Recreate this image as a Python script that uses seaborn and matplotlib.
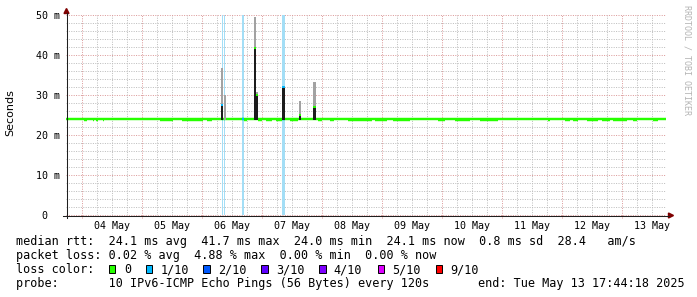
import numpy as np
import pandas as pd
import matplotlib
matplotlib.use("Agg")
import matplotlib.pyplot as plt
import matplotlib.dates as mdates
from matplotlib.ticker import MultipleLocator
from matplotlib.patches import Rectangle, Polygon
from matplotlib.lines import Line2D
import seaborn as sns

# ---------------- data ----------------
range_start = "2025-05-03 17:44:18"
range_end = "2025-05-13 17:44:18"

median_base = 24.1          # ms, typical median rtt
dip_value = 23.85           # ms, short dips of the median
dip_start = ["2025-05-04 00:48", "2025-05-04 04:24", "2025-05-04 05:36", "2025-05-04 08:24",
             "2025-05-05 07:12", "2025-05-05 16:00", "2025-05-06 02:00", "2025-05-06 16:48",
             "2025-05-06 22:24", "2025-05-07 01:36", "2025-05-07 05:36", "2025-05-07 11:12",
             "2025-05-07 22:24", "2025-05-08 03:12", "2025-05-08 10:24", "2025-05-08 21:12",
             "2025-05-09 04:24", "2025-05-09 22:24", "2025-05-10 05:12", "2025-05-10 15:12",
             "2025-05-11 18:24", "2025-05-12 01:12", "2025-05-12 04:24", "2025-05-12 10:00",
             "2025-05-12 16:00", "2025-05-12 20:24", "2025-05-13 04:24", "2025-05-13 12:24"]
dip_end = ["2025-05-04 02:00", "2025-05-04 04:48", "2025-05-04 06:24", "2025-05-04 08:48",
           "2025-05-05 12:24", "2025-05-06 00:24", "2025-05-06 04:00", "2025-05-06 18:00",
           "2025-05-07 00:00", "2025-05-07 04:00", "2025-05-07 08:00", "2025-05-07 14:24",
           "2025-05-08 00:00", "2025-05-08 04:48", "2025-05-08 20:00", "2025-05-09 02:00",
           "2025-05-09 11:12", "2025-05-10 01:12", "2025-05-10 11:12", "2025-05-10 22:24",
           "2025-05-11 19:12", "2025-05-12 03:12", "2025-05-12 06:24", "2025-05-12 14:24",
           "2025-05-12 19:12", "2025-05-13 02:00", "2025-05-13 06:00", "2025-05-13 14:24"]

# latency spikes: median, top of dense smoke, max ping, loss
event_time = ["2025-05-06 08:00", "2025-05-06 09:12", "2025-05-06 21:12", "2025-05-06 22:00",
              "2025-05-07 08:43", "2025-05-07 15:29", "2025-05-07 21:07"]
event_median = [27.5, 24.1, 41.7, 30.0, 32.0, 25.0, 27.0]
event_dark = [27.5, 24.1, 41.7, 30.0, 32.0, 25.0, 27.0]
event_max = [36.8, 30.0, 49.5, 30.8, 32.0, 28.5, 33.3]
event_loss = ["1/10", "0", "0", "0", "1/10", "0", "0"]

# periods with packet loss (background highlight)
lossbg_start = ["2025-05-06 08:00", "2025-05-06 09:05", "2025-05-06 16:00", "2025-05-07 08:17"]
lossbg_end = ["2025-05-06 08:30", "2025-05-06 09:30", "2025-05-06 16:48", "2025-05-07 09:12"]
lossbg_loss = ["1/10", "1/10", "1/10", "1/10"]

loss_labels = ["0", "1/10", "2/10", "3/10", "4/10", "5/10", "9/10"]
loss_colors = ["#26ff00", "#00b8ff", "#0059ff", "#5e00ff", "#7e00ff", "#dd00ff", "#ff0000"]
loss_bg_colors = {"1/10": "#a3def6"}

day_labels = ["04 May", "05 May", "06 May", "07 May", "08 May",
              "09 May", "10 May", "11 May", "12 May", "13 May"]
y_ticks = [0, 10, 20, 30, 40, 50]
y_tick_labels = ["0  ", "10 m", "20 m", "30 m", "40 m", "50 m"]

stat_median = "median rtt:  24.1 ms avg  41.7 ms max  24.0 ms min  24.1 ms now  0.8 ms sd  28.4   am/s"
stat_loss = "packet loss: 0.02 % avg  4.88 % max  0.00 % min  0.00 % now"
probe_text = "probe:       10 IPv6-ICMP Echo Pings (56 Bytes) every 120s"
end_text = "end: Tue May 13 17:44:18 2025"

# ---------------- figure ----------------
W, H = 697, 297
def fx(x): return x / W
def fy(y): return 1 - y / H

MONO = "DejaVu Sans Mono"
fig = plt.figure(figsize=(W / 100, H / 100), dpi=100, facecolor="white")
ax = fig.add_axes([fx(66), fy(215), 600 / W, 200 / H])
ax.set_facecolor("white")
for s in ax.spines.values():
    s.set_visible(False)

t0 = pd.Timestamp(range_start)
t1 = pd.Timestamp(range_end)
px = pd.Timedelta(minutes=24)  # one pixel

# grid
GRID = "#bebebe"
MGRID = "#dc9a9a"
dot = (0, (1.0, 1.4))
six_h = pd.date_range(t0.ceil("6h"), t1, freq="6h")
minor_x = [t for t in six_h if t.hour != 0]
major_x = [t for t in six_h if t.hour == 0]
ax.vlines(minor_x, 0, 50, colors=GRID, linestyles=dot, linewidth=0.72, zorder=0.5)
ax.vlines(major_x, -0.8, 50, colors=MGRID, linestyles=dot, linewidth=0.72, zorder=0.6, clip_on=False)
for v in np.arange(0, 50.1, 2):
    if v % 10 == 0:
        continue
    ax.axhline(v, color=GRID, linestyle=dot, linewidth=0.72, zorder=0.5)
for v in y_ticks:
    ax.axhline(v, color=MGRID, linestyle=dot, linewidth=0.72, zorder=0.6, clip_on=False)

# loss background
for s, e, l in zip(lossbg_start, lossbg_end, lossbg_loss):
    ax.axvspan(pd.Timestamp(s), pd.Timestamp(e), ymin=0, ymax=1,
               color=loss_bg_colors[l], linewidth=0, zorder=1)

palette = dict(zip(loss_labels, loss_colors))

# median baseline segments
rows = []
seg = 0
def add_seg(a, b, v, l):
    global seg
    rows.append((seg, pd.Timestamp(a), v, l))
    rows.append((seg, pd.Timestamp(b), v, l))
    seg += 1

add_seg(t0, t1, median_base, "0")
for a, b in zip(dip_start, dip_end):
    add_seg(a, b, dip_value, "0")
for a, b, l in zip(lossbg_start, lossbg_end, lossbg_loss):
    add_seg(a, b, median_base, l)
base_df = pd.DataFrame(rows, columns=["seg", "time", "rtt", "loss"])
sns.lineplot(data=base_df, x="time", y="rtt", hue="loss", units="seg", estimator=None,
             palette=palette, linewidth=1.75, legend=False, ax=ax, zorder=2,
             solid_capstyle="butt")

# smoke
et = pd.to_datetime(event_time)
xnum = mdates.date2num(et)
wdays = 2.2 * 24 / 60 / 24
dark = np.array(event_dark)
mx = np.array(event_max)
dark_h = np.where(dark > 24.2, dark - 23.7, 0)
ax.bar(xnum, dark_h, bottom=23.7, width=wdays, color="#1c1c1c", linewidth=0, zorder=3)
light_bottom = np.where(dark > 24.2, dark, 23.7)
ax.bar(xnum, mx - light_bottom, bottom=light_bottom, width=wdays, color="#a2a2a2",
       linewidth=0, zorder=3)

# event medians
rows = []
for i, (t, m, l) in enumerate(zip(et, event_median, event_loss)):
    if m <= median_base + 0.2:
        continue
    rows.append((i, t - px * 1.1, m, l))
    rows.append((i, t + px * 1.1, m, l))
ev_df = pd.DataFrame(rows, columns=["seg", "time", "rtt", "loss"])
sns.lineplot(data=ev_df, x="time", y="rtt", hue="loss", units="seg", estimator=None,
             palette=palette, linewidth=1.4, legend=False, ax=ax, zorder=4,
             solid_capstyle="butt")

ax.set_xlim(t0, t1)
ax.set_ylim(0, 50)
ax.set_xlabel("")
ax.set_ylabel("")

noons = [pd.Timestamp(d) + pd.Timedelta(hours=12) for d in pd.date_range("2025-05-04", periods=len(day_labels), freq="D")]
ax.set_xticks(noons)
ax.set_xticklabels(day_labels, fontfamily=MONO, fontsize=7.2, color="#000000")
ax.set_yticks(y_ticks)
ax.set_yticklabels(y_tick_labels, fontfamily=MONO, fontsize=7.2, color="#000000")
ax.tick_params(axis="x", length=0, pad=4.1)
ax.tick_params(axis="y", length=0, pad=4.3)
ax.yaxis.set_minor_locator(MultipleLocator(2))
ax.tick_params(axis="y", which="minor", length=0)

# axes lines + arrows
AX = "#1f1f1f"
ARROW = "#7f0000"
fig.add_artist(Line2D([fx(66.5), fx(66.5)], [fy(218), fy(13)], color=AX, lw=0.75))
fig.add_artist(Line2D([fx(63), fx(669)], [fy(215.5), fy(215.5)], color=AX, lw=0.75))
fig.add_artist(Polygon([(fx(64), fy(13.5)), (fx(69), fy(13.5)), (fx(66.5), fy(8.5))],
                       closed=True, color=ARROW, transform=fig.transFigure))
fig.add_artist(Polygon([(fx(668.5), fy(213)), (fx(668.5), fy(218)), (fx(673.5), fy(215.5))],
                       closed=True, color=ARROW, transform=fig.transFigure))

# labels
fig.text(fx(10.5), fy(113), "Seconds", rotation=90, ha="center", va="center",
         fontsize=8, fontfamily="DejaVu Sans", color="#000000")
fig.text(fx(687), fy(60), "RRDTOOL / TOBI OETIKER", rotation=270, ha="center", va="center",
         fontsize=6, fontfamily=MONO, color="#b4b4b4")

FS = 8.5
fig.text(fx(16), fy(245.3), stat_median, ha="left", va="baseline", fontsize=FS, fontfamily=MONO)
fig.text(fx(16), fy(259.2), stat_loss, ha="left", va="baseline", fontsize=FS, fontfamily=MONO)
fig.text(fx(16), fy(273.1), "loss color:", ha="left", va="baseline", fontsize=FS, fontfamily=MONO)
sq_x = [108.7, 145.7, 203.3, 261, 319.3, 377.7, 435.7]
tx_x = [124, 160.7, 218, 276, 333.7, 392.3, 450]
for c, lab, sx, tx in zip(loss_colors, loss_labels, sq_x, tx_x):
    fig.add_artist(Rectangle((fx(sx), fy(273)), 6.5 / W, 8 / H, facecolor=c, edgecolor="#000000",
                             linewidth=0.7, transform=fig.transFigure))
    fig.text(fx(tx), fy(273.1), lab, ha="left", va="baseline", fontsize=FS, fontfamily=MONO)
fig.text(fx(16), fy(287), probe_text, ha="left", va="baseline", fontsize=FS, fontfamily=MONO)
fig.text(fx(478), fy(287), end_text, ha="left", va="baseline", fontsize=FS, fontfamily=MONO)

fig.savefig("out.png", dpi=100, facecolor="white")
